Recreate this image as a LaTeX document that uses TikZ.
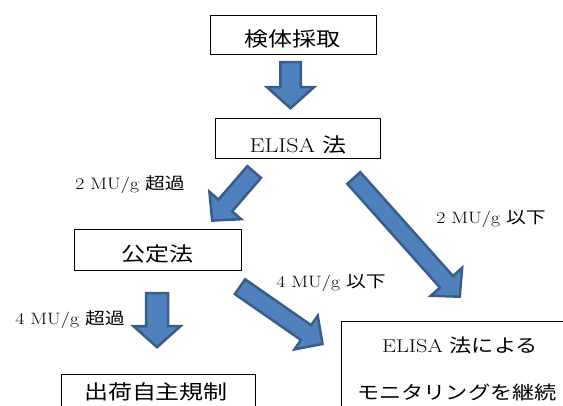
\documentclass[tikz,border=0pt]{standalone}
\usepackage{fontspec}
\usepackage{graphicx}
\newfontfamily\jp{Noto Sans CJK JP}
\usetikzlibrary{calc}
\definecolor{afill}{HTML}{4F81BD}
\definecolor{aline}{HTML}{385D8A}
\newcommand\T[1]{\scalebox{1.2}[1]{#1}}
\tikzset{
  box/.style={draw=black, line width=1pt, inner sep=0pt},
  bigtxt/.style={font=\fontsize{20}{24}\selectfont, inner sep=0pt},
  midtxt/.style={font=\fontsize{18.5}{22}\selectfont, inner sep=0pt},
  lbl/.style={font=\fontsize{16.5}{19}\selectfont, inner sep=0pt},
  blockarrow/.style={fill=afill, draw=aline, line width=2.5pt, line join=miter},
}
% #1 name, #2 tail, #3 tip, #4 shaft half width, #5 head half width, #6 head length
\newcommand\fatarrow[6]{%
  \coordinate (#1-t) at (#2);
  \coordinate (#1-p) at (#3);
  \coordinate (#1-b) at ($(#1-p)!#6!(#1-t)$);
  \draw[blockarrow]
    ($(#1-t)!#4!90:(#1-p)$) -- ($(#1-b)!#4!90:(#1-p)$) -- ($(#1-b)!#5!90:(#1-p)$)
    -- (#1-p) -- ($(#1-b)!#5!-90:(#1-p)$) -- ($(#1-b)!#4!-90:(#1-p)$)
    -- ($(#1-t)!#4!-90:(#1-p)$) -- cycle;
}
\begin{document}
\begin{tikzpicture}[x=1pt,y=-1pt]
\useasboundingbox (0,0) rectangle (563,405);
\clip (0,0) rectangle (563,405);

% boxes
\node[box, minimum width=166pt, minimum height=39pt] (b1) at (293,34.5) {};
\node[bigtxt] (b1t) at (292.5,39) {\T{\jp 検体採取}};

\node[box, minimum width=165pt, minimum height=40pt] (b2) at (297.5,138) {};
\node[bigtxt] (b2t) at (298,145) {\T{ELISA {\jp 法}}};

\node[box, minimum width=167pt, minimum height=41pt] (b3) at (157.5,249.5) {};
\node[bigtxt] (b3t) at (157.5,254) {\T{\jp 公定法}};

\node[box, minimum width=194pt, minimum height=56pt] (b4) at (158,402) {};
\node[bigtxt] (b4t) at (156,392) {\T{\jp 出荷自主規制}};

\node[box, minimum width=234pt, minimum height=119pt] (b5) at (458,380.5) {};
\node[midtxt] (b5t1) at (460,345) {\T{ELISA {\jp 法による}}};
\node[midtxt] (b5t2) at (457,392) {\T{\jp モニタリングを継続}};

% labels
\node[lbl] (l1) at (130,185) {\T{2 MU/g {\jp 超過}}};
\node[lbl] (l2) at (491,219) {\T{2 MU/g {\jp 以下}}};
\node[lbl] (l3) at (331,283) {\T{4 MU/g {\jp 以下}}};
\node[lbl] (l4) at (70,320) {\T{4 MU/g {\jp 超過}}};

% block arrows
\fatarrow{a1}{290.5,62}{290.5,108.2}{10.25pt}{23.5pt}{21pt}
\fatarrow{a2}{254.2,172}{212.2,220.6}{9pt}{21pt}{20pt}
\fatarrow{a3}{353.8,178}{459.8,296.7}{8.7pt}{21pt}{20pt}
\fatarrow{a4}{157,293.2}{157,347.2}{11pt}{23.5pt}{21pt}
\fatarrow{a5}{240,286.7}{322.5,344}{9pt}{20.5pt}{20pt}
\end{tikzpicture}
\end{document}
